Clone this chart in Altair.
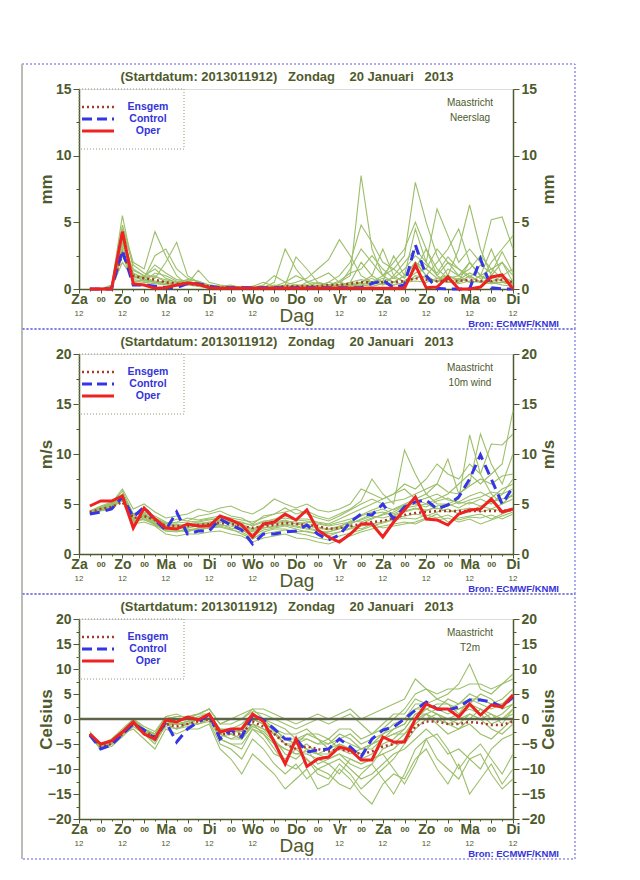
import altair as alt
import pandas as pd
import json

# ---------------- data ----------------
hours = [6 * i for i in range(1, 41)]
day_names = ["Za", "Zo", "Ma", "Di", "Wo", "Do", "Vr", "Za", "Zo", "Ma", "Di"]
twelve_hours = [0, 24, 48, 72, 96, 144, 168, 192, 216, 240]   # "12" row (none under "Dag")
title_text = "(Startdatum: 2013011912)\u00a0\u00a0\u00a0Zondag\u00a0\u00a0\u00a0\u00a020 Januari\u00a0\u00a0\u00a02013"

# precipitation (mm)
prec_oper = [0, 0, 0, 4.3, 0.4, 0.3, 0.05, 0.1, 0.3, 0.45, 0.35, 0.1, 0.05, 0.05, 0.05, 0.05, 0.05, 0.05, 0.05, 0.05,
             0.05, 0.05, 0.05, 0.05, 0.05, 0.05, 0.05, 0.05, 0.05, 0.05, 1.8, 0.1, 0.15, 0.9, 0, 0, 0.15, 0.9, 1.05, 0]
prec_ctrl = [0, 0, 0, 2.9, 0.3, 0.3, 0.2, 0.1, 0.1, 0.4, 0.4, 0.2, 0.1, 0.1, 0.1, 0.1, 0.1, 0.1, 0.1, 0.1,
             0.1, 0.1, 0.1, 0.1, 0.1, 0.1, 0.4, 0.65, 0.1, 0.3, 3.3, 1.0, 0.05, 0, 0, 0, 2.25, 0.1, 0, 0]
prec_ens = [0, 0, 0.1, 2.6, 1.0, 0.8, 0.7, 0.5, 0.4, 0.4, 0.3, 0.2, 0.1, 0.1, 0.1, 0.1, 0.1, 0.1, 0.2, 0.2,
            0.2, 0.2, 0.3, 0.3, 0.4, 0.5, 0.5, 0.5, 0.5, 0.6, 0.8, 0.7, 0.6, 0.6, 0.6, 0.7, 0.6, 0.6, 0.7, 0.5]
prec_members = [
    [0, 0, 0.2, 5.5, 1.5, 1, 0.5, 0.3, 0.2, 0.5, 0.2, 0.1, 0.1, 0.2, 0.1, 0.05, 0.1, 0.2, 0.1, 0.1, 0.2, 0.3, 0.2, 0.5, 1, 8.5, 3, 1, 0.5, 1, 2, 1, 0.5, 1.5, 1, 0.5, 1, 0.5, 0.3, 0.2],
    [0, 0, 0.1, 4.8, 2, 1.5, 4.3, 2.5, 1, 0.3, 0.5, 0.2, 0.1, 0.1, 0.2, 0.1, 0.1, 0.5, 3, 1.5, 0.5, 0.2, 0.5, 1, 2, 4.8, 3.5, 2, 1.5, 2.5, 8, 5, 2.5, 1, 3, 6.3, 3, 1, 2, 0.5],
    [0, 0, 0.3, 3.5, 1, 0.8, 1, 0.5, 0.3, 0.4, 1.4, 0.5, 0.3, 0.2, 0.1, 0.1, 0.2, 0.1, 0.3, 0.5, 0.8, 1.5, 2.2, 3.7, 2.5, 1, 0.5, 0.3, 1, 2, 3, 2, 6, 4, 2, 3, 2, 5.2, 5.4, 3],
    [0, 0, 0.1, 2, 0.8, 1, 1.5, 0.8, 0.5, 0.5, 0.3, 0.2, 0.1, 0.1, 0.1, 0.1, 0.1, 0.1, 0.2, 0.3, 0.2, 0.5, 0.3, 0.2, 0.4, 0.5, 1, 0.5, 0.3, 0.5, 1.5, 3, 1.5, 0.8, 1, 2, 1, 1.5, 0.8, 0.5],
    [0, 0, 0.2, 4, 1.2, 0.8, 2.5, 3, 1.5, 0.8, 0.5, 0.3, 0.2, 0.3, 0.1, 0.2, 0.5, 0.2, 0.3, 2.4, 1.5, 0.5, 0.3, 0.2, 0.5, 2, 1, 3, 1, 0.5, 0.8, 1, 2, 3, 4.5, 2, 1, 0.5, 1, 1.5],
    [0, 0, 0.1, 3, 0.6, 0.5, 0.4, 0.3, 0.2, 0.6, 0.4, 0.2, 0.1, 0.1, 0.05, 0.1, 0.1, 0.1, 0.1, 0.2, 0.1, 0.2, 0.5, 0.3, 0.2, 0.5, 0.8, 0.3, 0.5, 1, 4.5, 2, 1, 0.5, 0.5, 1, 0.5, 0.8, 0.6, 0.3],
    [0, 0, 0.2, 4.5, 1.8, 1.2, 0.8, 2, 3.5, 1, 0.5, 0.2, 0.1, 0.1, 0.1, 0.1, 0.3, 1, 0.5, 0.3, 0.3, 0.2, 0.1, 0.3, 1.5, 3, 2, 1, 2, 3, 5, 3, 1, 2, 1.5, 1, 0.5, 2, 3, 4],
    [0, 0, 0.1, 2.5, 0.5, 0.7, 0.6, 0.4, 0.3, 0.4, 0.3, 0.2, 0.1, 0.1, 0.1, 0.05, 0.05, 0.1, 0.1, 0.1, 0.2, 0.1, 0.1, 0.2, 0.1, 0.3, 0.5, 0.8, 0.5, 0.3, 1, 0.8, 0.6, 0.5, 0.8, 0.5, 0.6, 0.5, 0.5, 0.3],
    [0, 0, 0.1, 3.8, 1, 0.6, 1.2, 1, 0.6, 0.5, 0.4, 0.3, 0.2, 0.1, 0.1, 0.2, 0.1, 0.3, 0.2, 0.1, 0.5, 0.8, 1.2, 0.5, 0.3, 0.4, 0.5, 1, 1.5, 0.8, 2, 1.5, 3, 2, 1, 1.5, 2.5, 1.5, 2, 1],
    [0, 0, 0.1, 3.2, 1.4, 1, 0.9, 0.7, 0.5, 0.7, 0.6, 0.3, 0.2, 0.2, 0.1, 0.1, 0.2, 0.2, 0.1, 0.2, 0.1, 0.1, 0.3, 0.2, 0.3, 0.2, 0.4, 0.6, 2.5, 1, 2, 1, 0.5, 1, 0.6, 2, 1, 3, 1, 0.5],
    [0, 0, 0.1, 3.6, 0.9, 0.7, 0.5, 0.4, 0.3, 0.5, 0.3, 0.2, 0.1, 0.1, 0.1, 0.1, 0.1, 0.1, 0.2, 0.2, 0.3, 0.2, 0.2, 0.3, 0.5, 0.7, 0.5, 0.6, 0.8, 0.6, 1.2, 1.5, 0.8, 1, 0.7, 1.2, 0.8, 1, 0.6, 0.4],
    [0, 0, 0.2, 4.2, 1.1, 0.9, 1.8, 1.2, 0.7, 0.6, 0.4, 0.2, 0.1, 0.1, 0.1, 0.1, 0.1, 0.2, 0.5, 1, 0.6, 0.4, 0.3, 0.6, 1.2, 1.5, 2.5, 1.5, 0.8, 1.5, 2.5, 1.8, 1.2, 2.4, 1.5, 0.8, 1.8, 1.2, 2.8, 1.2],
    [0, 0, 0.1, 2.8, 0.7, 0.6, 0.5, 0.6, 0.4, 0.3, 0.2, 0.1, 0.05, 0.05, 0.1, 0.1, 0.05, 0.1, 0.1, 0.1, 0.1, 0.2, 0.1, 0.1, 0.2, 0.3, 0.2, 0.4, 0.3, 0.5, 0.6, 0.5, 0.8, 0.6, 0.4, 0.6, 0.5, 0.4, 0.5, 0.3],
]

# 10m wind (m/s)
wind_oper = [4.8, 5.3, 5.3, 5.8, 2.6, 4.6, 3.5, 2.6, 2.5, 3.0, 2.8, 2.8, 3.8, 3.4, 2.9, 1.7, 3.0, 3.2, 4.0, 3.4,
             4.4, 2.4, 1.7, 1.2, 2.0, 3.0, 3.0, 1.7, 3.2, 4.4, 5.7, 3.5, 3.4, 2.9, 4.0, 4.4, 4.5, 5.5, 4.2, 4.5]
wind_ctrl = [4.0, 4.2, 4.5, 5.7, 3.7, 4.7, 3.4, 2.4, 4.2, 2.0, 2.3, 2.3, 3.5, 2.9, 2.4, 1.0, 2.0, 2.0, 2.2, 2.3,
             2.9, 2.0, 1.4, 1.9, 3.2, 4.0, 3.9, 5.0, 3.5, 4.7, 5.2, 5.4, 4.5, 4.9, 5.7, 7.5, 9.9, 7.5, 5.0, 6.7]
wind_ens = [4.2, 4.5, 4.7, 5.2, 3.6, 3.8, 3.4, 2.8, 2.8, 2.8, 2.9, 3.0, 3.1, 3.0, 2.8, 2.6, 2.8, 2.9, 3.1, 3.0,
            2.9, 2.8, 2.5, 2.6, 2.8, 3.0, 3.2, 3.3, 3.6, 3.9, 4.1, 4.2, 4.3, 4.3, 4.3, 4.3, 4.3, 4.3, 4.3, 4.4]
wind_members = [
    [4.2, 4.6, 5, 6.3, 4, 4.5, 3.5, 3, 3.5, 3.3, 3.8, 4, 4.3, 3.8, 3.6, 3, 3.8, 4, 4.6, 4, 4.3, 3.8, 3.5, 4, 4.5, 5.3, 7.5, 6, 5, 10.4, 8, 6, 7, 9.5, 6, 7, 12, 9, 7, 10],
    [4, 4.3, 4.5, 5.5, 3.2, 3.6, 3, 2.3, 2.2, 2.5, 2.4, 2.6, 2.8, 2.5, 2, 1.5, 2.2, 2.5, 2.5, 2.2, 2.3, 2, 1.8, 2.2, 2.5, 2.8, 3, 3.2, 3.5, 3.8, 4, 3.8, 4.2, 4.5, 4, 4.2, 4.8, 4.5, 5, 5.5],
    [4.3, 4.8, 5.2, 6, 3.8, 4.2, 3.8, 3.2, 2.8, 3, 3.2, 3.4, 3.6, 3.4, 3.2, 2.8, 3.2, 3.5, 3.8, 3.5, 3.5, 3.2, 3, 3.5, 4, 4.5, 5, 5.5, 6, 6.5, 5.5, 5, 5.5, 6, 7, 8, 7, 8, 9, 14.3],
    [4, 4.4, 4.8, 5.8, 3.5, 3.8, 3.2, 2.6, 2.6, 2.6, 2.8, 3, 3.2, 3, 2.6, 2.2, 2.6, 2.8, 3, 2.8, 2.6, 2.4, 2, 2.2, 2.6, 3, 3.5, 4, 4.5, 5, 5.5, 6, 5, 5, 5.5, 11.9, 8, 6, 5, 6],
    [4.1, 4.5, 4.9, 5.3, 3, 3.2, 2.8, 2, 1.8, 2, 2, 2.2, 2.3, 2, 1.8, 1.2, 1.6, 1.8, 2, 1.6, 1.5, 1.2, 1, 1.4, 1.8, 2.2, 2.5, 2.8, 3, 3.2, 3, 3.5, 4, 3.2, 3.6, 3.8, 4, 3.5, 4, 4.5],
    [4.3, 4.7, 5.1, 6.5, 4.5, 5, 4.2, 3.6, 3.8, 4, 4.5, 4.2, 4.6, 4.8, 4.3, 4, 4.6, 5.5, 5, 4.6, 5, 4.4, 4.2, 4.5, 5, 6.5, 6, 5.5, 6, 7, 6.5, 7.5, 9, 8, 7.5, 9, 8, 11, 10.9, 12],
    [4.2, 4.6, 5, 5.8, 3.4, 4, 3.4, 2.8, 3, 2.6, 3, 3.2, 3.4, 3.2, 3, 2.5, 3, 3.2, 3.4, 3, 3.2, 3, 2.8, 3, 3.2, 3.8, 4.2, 4.5, 4, 4.6, 4.8, 5, 4.5, 4.8, 5.2, 5, 5.5, 5, 6, 6.5],
    [4, 4.4, 4.6, 5.6, 3.6, 3.4, 3, 2.4, 2.4, 2.2, 2.6, 2.8, 3, 2.6, 2.4, 1.8, 2.4, 2.6, 2.8, 2.5, 2.2, 2, 2.2, 2.6, 2.8, 2.5, 3, 2.6, 2.8, 3, 3.2, 3.6, 3.4, 3.6, 3.2, 3.5, 3, 3.4, 3.8, 4.2],
    [4.3, 4.7, 5, 6, 4, 4.4, 3.6, 3, 3.2, 3.6, 3.4, 3.6, 3.8, 3.6, 3.4, 3.2, 3.6, 4, 4.2, 4.5, 4, 3.6, 3.3, 3.8, 4.4, 5, 5.5, 5, 5.3, 5.5, 6, 6.5, 7, 6.2, 6, 6.8, 7.5, 7, 7.8, 8],
    [4.2, 4.5, 4.9, 5.5, 3.3, 3.7, 3.1, 2.5, 2.6, 2.4, 2.6, 2.8, 2.9, 2.8, 2.5, 2, 2.6, 2.7, 2.9, 2.7, 2.5, 2.3, 2.2, 2.5, 3, 3.5, 4, 4.2, 3.8, 4.2, 4.5, 4.3, 4.8, 5, 4.6, 5.2, 4.8, 5.2, 5.5, 5.8],
    [4.1, 4.5, 4.8, 5.6, 3.4, 3.9, 3.3, 2.7, 2.9, 2.9, 3.1, 3.1, 3.3, 3.1, 2.9, 2.4, 2.9, 3.1, 3.3, 3.2, 3.0, 2.7, 2.5, 2.8, 3.1, 3.4, 3.8, 3.6, 3.9, 4.3, 4.6, 4.4, 4.6, 4.2, 4.4, 4.6, 4.2, 4.5, 4.3, 4.6],
    [4.2, 4.6, 5, 5.9, 3.9, 4.1, 3.6, 3.1, 3.1, 3.2, 3.3, 3.5, 3.5, 3.3, 3.1, 2.9, 3.3, 3.4, 3.6, 3.4, 3.3, 3.1, 2.9, 3.2, 3.5, 3.9, 4.4, 4.8, 4.4, 4.9, 5.2, 5.6, 6, 5.4, 5.2, 5.8, 6.2, 5.6, 6.5, 7],
    [4.1, 4.4, 4.7, 5.4, 3.1, 3.5, 2.9, 2.3, 2.3, 2.3, 2.5, 2.6, 2.7, 2.4, 2.2, 1.6, 2, 2.2, 2.4, 2.1, 1.9, 1.6, 1.4, 1.8, 2.1, 2.4, 2.8, 3.1, 3.4, 3.6, 3.5, 3.9, 3.6, 3.9, 3.4, 3.7, 3.6, 3.9, 3.5, 4],
    [4.2, 4.5, 4.9, 5.7, 3.6, 3.9, 3.4, 2.9, 2.7, 2.8, 3, 3.1, 3.4, 3.2, 2.7, 2.3, 2.8, 3, 3.2, 3, 2.8, 2.6, 2.4, 2.7, 3.3, 3.2, 3.6, 3.9, 4.2, 4.8, 5, 4.7, 5.3, 5.6, 5, 5.4, 5.7, 6.2, 6, 7.5],
]

# 2m temperature (Celsius)
temp_oper = [-3, -5, -4.4, -2.6, -0.6, -3, -4, -0.2, -0.6, 0.4, -0.2, 1, -2.6, -2, -2, 1, -0.5, -4.6, -9, -4,
             -9.5, -8, -7.6, -5.6, -6.2, -8.2, -8.2, -3.6, -4.6, -4.6, 0, 3, 2, 2, 0.4, 3, 0.8, 2.8, 2.4, 4.8]
temp_ctrl = [-3.2, -6, -5.2, -3, -1, -2.2, -4, -0.6, -4.6, -2, -0.6, 1, -4, -2.2, -3.6, 0.8, -0.2, -2, -4, -4,
             -6.6, -6.2, -6, -4, -5.6, -7.6, -4, -2.2, -1.6, 0, 1.8, 3.4, 2, 1.8, 2.4, 3.8, 3.8, 3.4, 2.4, 4.4]
temp_ens = [-3, -5.5, -5, -3, -1, -2.5, -3.5, -1, -1.5, -1, -0.5, 0, -3, -3, -3, -0.5, -1.5, -3, -5, -6,
            -5.5, -6, -6.5, -6, -6.5, -7, -6.5, -5.5, -5, -4.5, -1.5, -0.5, -0.5, -1, -1, -0.6, -0.8, -1.2, -1.2, -0.5]
temp_members = [
    [-3, -5, -4.5, -2.5, 0, -2, -3, 0, 0.5, 0.5, 1, 2, -1, 0, 0, 1.5, 1, 0, -1, -2, -1, 0, -1, 0, 1, -1, -3, -2, 0, 2, 5, 6, 4, 5, 7, 11, 6, 5, 7, 9],
    [-3.5, -6, -5.5, -3.5, -1, -3, -5, -1, -2, -1, 0, 1, -4, -5, -6, -2, -3, -6, -9, -10, -8, -11, -12, -9, -11, -14, -12, -10, -8, -5, -2, 0, 1, -1, -2, 0, 2, 1, -1, 2],
    [-3, -6, -5, -3, -2, -4, -6, -2, -3, -2, -2, -1, -6, -8, -11, -7, -9, -11, -14, -12, -10, -14, -13, -10, -12, -15, -17, -13, -11, -12, -8, -6, -10, -13, -9, -15, -12, -9, -13, -10],
    [-2.5, -5, -4, -2, 0, -1.5, -2.5, 0.5, 1, 0, 1, 2, -1, -1, 0, 2, 0, -2, -4, -5, -3, -4, -5, -3, -4, -6, -5, -3, -1, 0, 3, 3, 2, 4, 3, 5, 4, 3, 4, 6],
    [-3, -5.5, -5, -3, -0.5, -3, -4, -1, -1, -0.5, -1, 0, -2, -3, -4, -1, -2, -4, -7, -8, -6, -9, -8, -7, -9, -10, -9, -6, -5, -3, -1, 1, 2, 1, 2, 3, 2, 0, 1, 3],
    [-3, -5, -5, -3, -1, -2, -3, -1, -2, -1, 0, 0, -3, -2, -2, 0, -1, -2, -3, -3, -2, -4, -6, -4, -3, -5, -4, -3, -2, -1, 2, 2, 1, 0, -1, 1, 0, -2, -3, -1],
    [-3.5, -6, -5, -3, -1, -2.5, -4, -0.5, -1, -1, 0, 0.5, -3, -4, -3, -1, -3, -5, -6, -7, -7, -8, -9, -11, -8, -9, -8, -7, -10, -13, -9, -4, -3, -6, -10, -7, -5, -8, -11, -7],
    [-3, -5, -4.5, -2.5, 0, -2, -3, 0.5, 0, 0, 1, 1, -2, -2, -3, 0, -1, -3, -4, -4, -4, -5, -4, -6, -7, -6, -5, -4, -3, -3, 0, 2, 3, 3, 1, 4, 4, 3, 3, 5],
    [-3, -5.5, -5, -3, -1, -3, -4, -1, -1, -1, -1, 0, -4, -5, -5, -2, -4, -7, -8, -6, -8, -10, -9, -8, -10, -12, -11, -9, -7, -6, -4, -2, -4, -7, -6, -8, -10, -6, -4, -3],
    [-3, -5, -4.5, -2.5, -0.5, -2, -3, 0, 0.5, 0.5, 1, 2, -1, 0, 1, 2, 2, 1, 0, -1, 0, 1, 0, 1, 2, 0, 1, 2, 3, 4, 8, 6, 5, 6, 6, 7, 7, 6, 7, 8],
    [-3, -5.5, -5, -3, -1, -2.5, -3.5, -1, -1, -1, 0, 0, -3, -4, -4, -1, -2, -3, -5, -6, -5, -7, -7, -5, -6, -8, -7, -5, -4, -2, 1, 2, 1, 0, 1, 2, 1, -1, 0, 1],
    [-3, -5, -5, -3, -1, -2, -3, -1, -1, -1, 0, 1, -2, -3, -2, 0, -1, -2, -4, -5, -4, -5, -5, -4, -5, -6, -6, -4, -2, -1, 2, 3, 2, 2, 3, 4, 3, 2, 3, 4],
    [-3, -5.5, -4.5, -2.5, -0.5, -2, -3.5, 0, 0, -0.5, 0.5, 1, -2.5, -2, -1, 1, 0, -1, -2, -4, -3, -3, -4, -2, -2, -4, -3, -1, 1, 1, 4, 3, 4, 3, 2, 3, 5, 4, 2, 3],
    [-3, -6, -5, -3.5, -1.5, -3, -4.5, -1.5, -2, -1.5, -1, -0.5, -5, -6, -8, -4, -6, -9, -11, -9, -12, -10, -11, -13, -14, -11, -9, -12, -15, -11, -6, -4, -8, -10, -12, -8, -7, -11, -14, -12],
    [-3, -5, -4.5, -2.5, -0.5, -2.5, -3.5, -0.5, -0.5, 0, 0, 0.5, -2, -2.5, -2.5, 0.5, -0.5, -2.5, -5, -5, -6, -7, -6, -5, -6, -7, -5, -4, -3, -2, 1, 1, 0, -1, 0, 1, 0, 1, 0, 2],
    [-3, -5.5, -5, -3, -1, -2.5, -3, -0.5, -1, -0.5, 0, 0.5, -3.5, -3, -4, -1.5, -2.5, -4.5, -6, -7, -6.5, -7, -8, -7, -8, -9, -8, -7, -6, -4, 0, 1, -1, -3, -2, -1, -3, -4, -2, 0],
]

# ---------------- styling ----------------
OLIVE = "#4e5a2c"
GREEN = "#9cbf6a"
RED = "#ee2222"
BLUE = "#3535e6"
ENSC = "#a83a2a"
LEGBLUE = "#3434d8"
FONT = "Liberation Sans"
W, H = 434, 200

one = pd.DataFrame({"a": [0]})
twelve_df = pd.DataFrame({"h": twelve_hours, "lab": ["12"] * len(twelve_hours)})

x_label_expr = (
    "datum.value % 24 == 0 ? " + json.dumps(day_names) + "[datum.value / 24] : "
    "(datum.value % 12 == 0 ? '00' : '')"
)


def x_axis():
    return alt.Axis(
        values=list(range(0, 241, 6)),
        labelExpr=x_label_expr,
        labelFontSize=alt.condition("datum.value % 24 == 0", alt.value(14), alt.value(8)),
        labelFontWeight="bold",
        labelColor=OLIVE,
        labelFont=FONT,
        labelOverlap=False,
        labelFlush=False,
        labelBound=False,
        labelBaseline="middle",
        labelPadding=6,
        tickSize=alt.condition("datum.value % 12 == 0", alt.value(4), alt.value(2)),
        tickColor=OLIVE,
        domainColor=OLIVE,
        domainWidth=1.5,
        grid=False,
        title=None,
    )


def y_axis(vals, orient, title):
    return alt.Axis(
        orient=orient,
        values=vals,
        labelExpr="datum.value % 5 == 0 ? datum.label : ''",
        tickSize=alt.condition("datum.value % 5 == 0", alt.value(6), alt.value(3)),
        labelFontSize=14,
        labelFontWeight="bold",
        labelColor=OLIVE,
        labelFont=FONT,
        labelOverlap=False,
        tickColor=OLIVE,
        domainColor=OLIVE,
        domainWidth=1.5,
        grid=False,
        title=title,
        titleFontSize=17,
        titleFontWeight="bold",
        titleColor=OLIVE,
        titleFont=FONT,
        titleAngle=270,
        titleBaseline="middle",
        titleAlign="center",
        titleX=-33 if orient == "left" else 35,
        titleY=H / 2,
    )


def txt(text, x, y, size, color, weight="bold", align="center"):
    return alt.Chart(one).mark_text(
        text=text, fontSize=size, fontWeight=weight, color=color, font=FONT, align=align, baseline="middle"
    ).encode(x=alt.value(x), y=alt.value(y))


def hline(x1, x2, y, color, width, dash=None):
    kw = dict(color=color, strokeWidth=width)
    if dash:
        kw["strokeDash"] = dash
    return alt.Chart(one).mark_rule(**kw).encode(x=alt.value(x1), x2=alt.value(x2), y=alt.value(y))


def panel(members, ens, ctrl, oper, domain, yvals, ytitle, varname, zero=False):
    mem_df = pd.DataFrame(
        [{"h": h, "v": v, "m": k} for k, mem in enumerate(members) for h, v in zip(hours, mem)]
    )
    main_df = pd.DataFrame({"h": hours, "ens": ens, "ctl": ctrl, "op": oper})
    xsc = alt.Scale(domain=[0, 240], nice=False)
    xs = alt.X("h:Q", scale=xsc, axis=x_axis())
    ysc = alt.Scale(domain=domain, nice=False, zero=False)

    layers = []
    # border of the panel
    layers.append(
        alt.Chart(one).mark_rect(fill="white", fillOpacity=0, stroke="#5a5ae0", strokeWidth=1, strokeDash=[2, 2])
        .encode(x=alt.value(-57), x2=alt.value(496), y=alt.value(-25), y2=alt.value(240))
    )
    layers.append(
        alt.Chart(one).mark_rule(color="#b9bdb4", strokeWidth=2)
        .encode(x=alt.value(-57), y=alt.value(-25), y2=alt.value(240))
    )
    # ensemble members
    layers.append(
        alt.Chart(mem_df).mark_line(color=GREEN, strokeWidth=1.1)
        .encode(x=xs, y=alt.Y("v:Q", scale=ysc, axis=y_axis(yvals, "left", ytitle)), detail="m:N")
    )
    if zero:
        layers.append(
            alt.Chart(one).mark_rule(color="#5b6448", strokeWidth=2.5)
            .encode(y=alt.datum(0, scale=ysc, axis=None))
        )
    base = alt.Chart(main_df)
    layers.append(
        base.mark_line(color=ENSC, strokeWidth=2.5, strokeDash=[2, 3])
        .encode(x=xs, y=alt.Y("ens:Q", scale=ysc, axis=None))
    )
    layers.append(
        base.mark_line(color=BLUE, strokeWidth=3, strokeDash=[10, 6])
        .encode(x=xs, y=alt.Y("ctl:Q", scale=ysc, axis=None))
    )
    layers.append(
        base.mark_line(color=RED, strokeWidth=3)
        .encode(x=xs, y=alt.Y("op:Q", scale=ysc, axis=None))
    )
    # right-hand axis
    layers.append(
        base.mark_line(opacity=0)
        .encode(x=xs, y=alt.Y("ens:Q", scale=ysc, axis=y_axis(yvals, "right", ytitle)))
    )
    # second row of x labels ("12")
    layers.append(
        alt.Chart(twelve_df).mark_text(fontSize=8, color=OLIVE, font=FONT, baseline="middle")
        .encode(x=xs, text="lab:N", y=alt.value(225))
    )
    # legend
    layers.append(
        alt.Chart(one).mark_rect(fillOpacity=0, fill="white", stroke="#8a9a78", strokeWidth=1, strokeDash=[1, 2])
        .encode(x=alt.value(0), x2=alt.value(105), y=alt.value(0), y2=alt.value(60))
    )
    layers.append(hline(3, 35, 18, ENSC, 2.5, [2, 3]))
    layers.append(hline(3, 35, 30, BLUE, 3, [10, 5]))
    layers.append(hline(3, 35, 42, RED, 3))
    layers.append(txt("Ensgem", 69, 18, 10.5, LEGBLUE))
    layers.append(txt("Control", 69, 30, 10.5, LEGBLUE))
    layers.append(txt("Oper", 69, 42, 10.5, LEGBLUE))
    # annotations
    layers.append(txt(title_text, 208, -12, 13, OLIVE))
    layers.append(txt("Maastricht", 391, 14, 10, OLIVE, weight="normal"))
    layers.append(txt(varname, 391, 29, 10, OLIVE, weight="normal"))
    layers.append(txt("Dag", 218, 227, 19, OLIVE, weight="normal"))
    layers.append(txt("Bron: ECMWF/KNMI", 480, 235, 9.5, LEGBLUE, align="right"))

    return alt.layer(*layers).resolve_scale(y="independent").properties(width=W, height=H)


p1 = panel(prec_members, prec_ens, prec_ctrl, prec_oper, [0, 15],
           [0, 2.5, 5, 7.5, 10, 12.5, 15], "mm", "Neerslag")
p2 = panel(wind_members, wind_ens, wind_ctrl, wind_oper, [0, 20],
           [0, 2.5, 5, 7.5, 10, 12.5, 15, 17.5, 20], "m/s", "10m wind")
p3 = panel(temp_members, temp_ens, temp_ctrl, temp_oper, [-20, 20],
           [-20, -17.5, -15, -12.5, -10, -7.5, -5, -2.5, 0, 2.5, 5, 7.5, 10, 12.5, 15, 17.5, 20],
           "Celsius", "T2m", zero=True)

chart = (
    alt.vconcat(p1, p2, p3, spacing=65, bounds="flush")
    .properties(padding={"left": 12, "top": 54, "right": 5, "bottom": 5})
    .configure_view(stroke="#b5bcaa", strokeWidth=1)
    .configure(background="white")
)

chart.save("out.html", embed_options={"renderer": "svg", "actions": False})
